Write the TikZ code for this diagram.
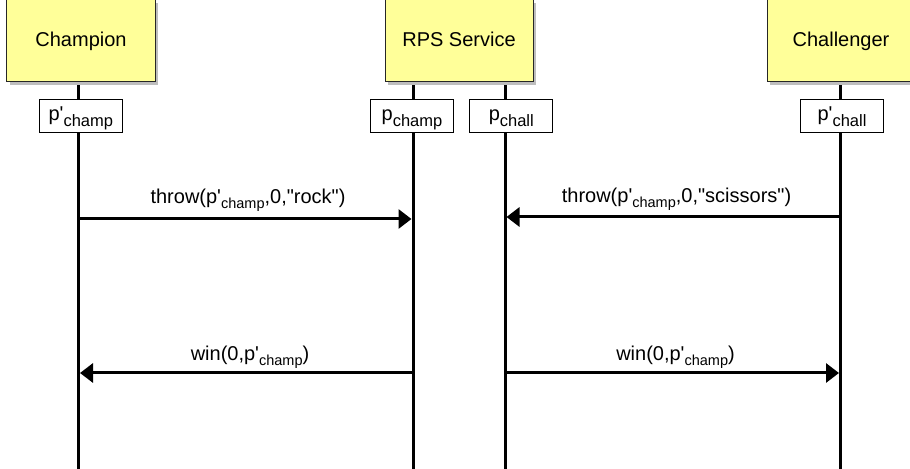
\documentclass[tikz,border=0pt]{standalone}
\usepackage{fontspec}
\newfontfamily\lsans{Liberation Sans}
\usetikzlibrary{arrows.meta,shadows}
\definecolor{actoryellow}{HTML}{FFFF99}
\definecolor{shadowgray}{HTML}{BEBEBE}
% lowered subscripts: inside the port boxes and on the messages
\newcommand\boxsub[1]{\raisebox{-6bp}{\fontsize{16.5bp}{18bp}\selectfont #1}}
\newcommand\msgsub[1]{\raisebox{-5bp}{\fontsize{14.5bp}{16bp}\selectfont #1}}
\begin{document}
\begin{tikzpicture}[x=1bp,y=-1bp,
  every node/.style={font=\lsans\fontsize{20bp}{24bp}\selectfont},
  actor/.style={draw=black!85, line width=1bp, fill=actoryellow,
    minimum width=148bp, inner sep=0pt, text height=47bp, text depth=35bp,
    drop shadow={shadow xshift=3bp, shadow yshift=-3bp, fill=shadowgray, opacity=1}},
  port/.style={draw=black, line width=0.8bp, fill=white,
    minimum width=83bp, inner sep=0pt, text height=22bp, text depth=11bp},
  lifeline/.style={line width=3bp},
  msg/.style={line width=3bp, -{Triangle[length=13bp,width=19bp]}, shorten >=1.5bp},
  msglabel/.style={anchor=base}]
\useasboundingbox (0,0) rectangle (910,469);
\clip (0,0) rectangle (910,469);

% lifeline ends
\coordinate (champTop) at (78.5,82);   \coordinate (champBot) at (78.5,475);
\coordinate (svcATop)  at (413,82);    \coordinate (svcABot)  at (413,475);
\coordinate (svcBTop)  at (505,82);    \coordinate (svcBBot)  at (505,475);
\coordinate (challTop) at (840.5,82);  \coordinate (challBot) at (840.5,475);

\draw[lifeline] (champTop) -- (champBot);
\draw[lifeline] (svcATop) -- (svcABot);
\draw[lifeline] (svcBTop) -- (svcBBot);
\draw[lifeline] (challTop) -- (challBot);

% participants
\node[actor] (champion)   at (81,41)  {Champion};
\node[actor] (service)    at (459,41) {RPS Service};
\node[actor] (challenger) at (841,41) {Challenger};

% ports
\node[port] (pChampPrime) at (80.8,115.5)  {p'\boxsub{champ}};
\node[port] (pChamp)      at (412,115.5)   {p\boxsub{champ}};
\node[port] (pChall)      at (511.3,115.5) {p\boxsub{chall}};
\node[port] (pChallPrime) at (842,115.5)   {p'\boxsub{chall}};

% message anchors on the lifelines
\coordinate (m1a) at (78.5,219);  \coordinate (m1b) at (413,219);
\coordinate (m2a) at (840.5,217); \coordinate (m2b) at (505,217);
\coordinate (m3a) at (413,373);   \coordinate (m3b) at (78.5,373);
\coordinate (m4a) at (505,373);   \coordinate (m4b) at (840.5,373);

\draw[msg] (m1a) -- (m1b);
\draw[msg] (m2a) -- (m2b);
\draw[msg] (m3a) -- (m3b);
\draw[msg] (m4a) -- (m4b);

\node[msglabel] (l1) at (248,204)   {throw(p'\msgsub{champ},0,"rock")};
\node[msglabel] (l2) at (676.5,203) {throw(p'\msgsub{champ},0,"scissors")};
\node[msglabel] (l3) at (250,361)   {win(0,p'\msgsub{champ})};
\node[msglabel] (l4) at (675.5,361) {win(0,p'\msgsub{champ})};
\end{tikzpicture}
\end{document}
